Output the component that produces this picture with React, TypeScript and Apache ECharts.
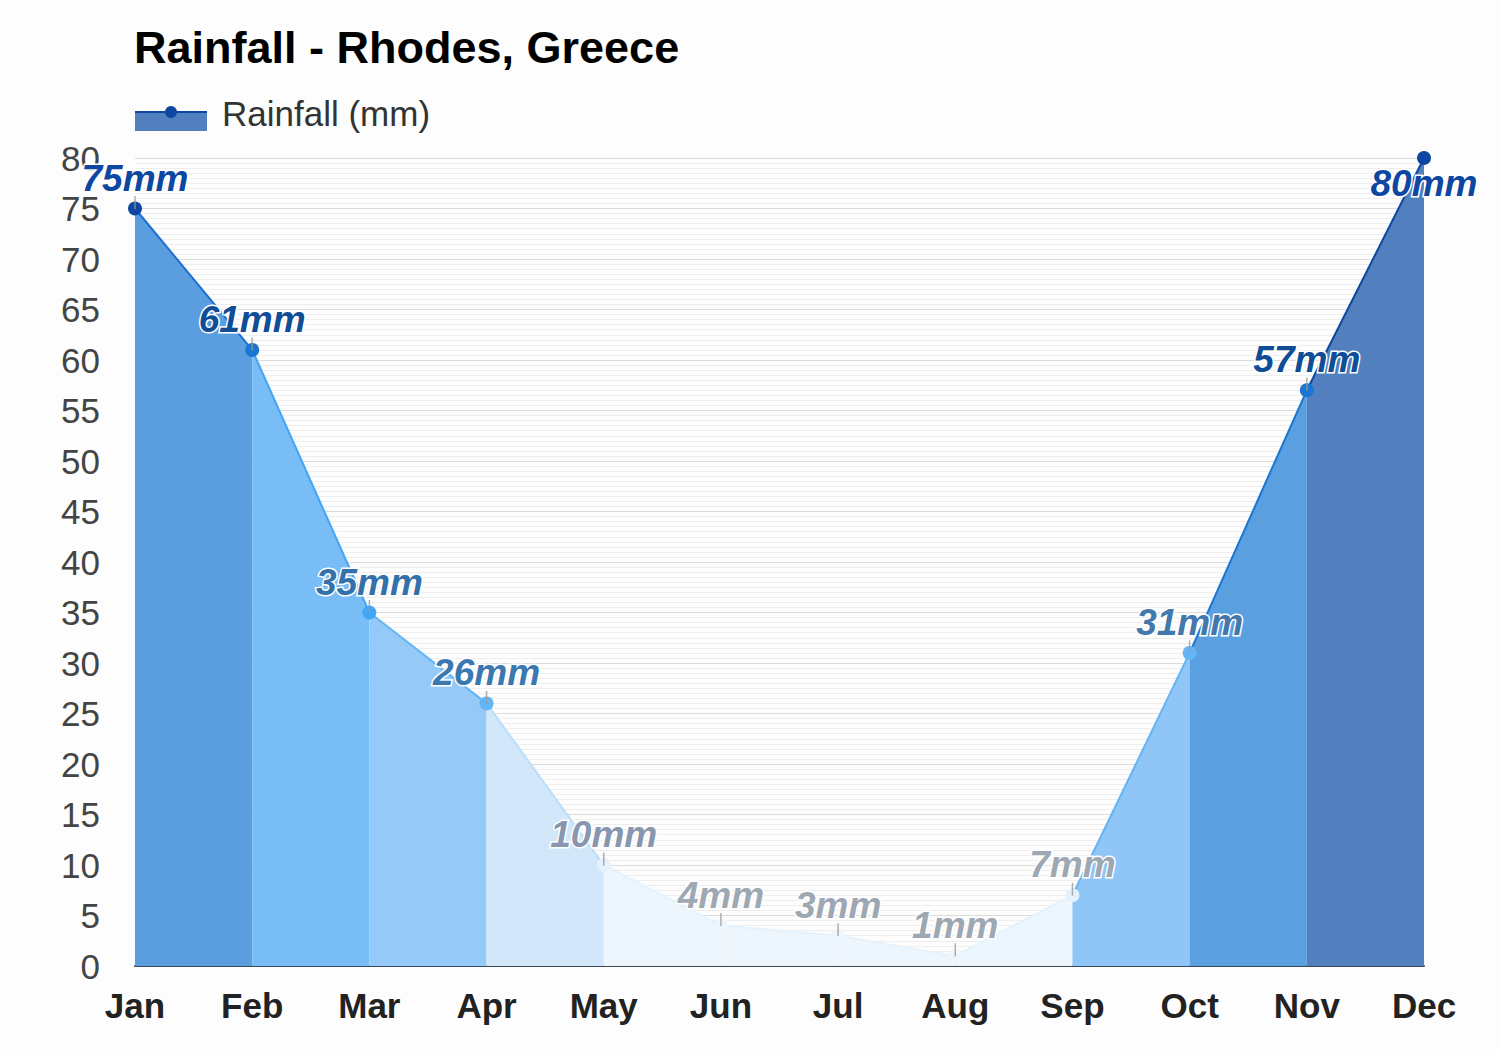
import React, { useEffect, useRef } from "react";
import * as echarts from "echarts";

const months = ["Jan", "Feb", "Mar", "Apr", "May", "Jun", "Jul", "Aug", "Sep", "Oct", "Nov", "Dec"];
const rainfall = [75, 61, 35, 26, 10, 4, 3, 1, 7, 31, 57, 80];
const yTicks = { min: 0, max: 80, interval: 5 };

const pointColors = ["#0d47a1", "#1976d2", "#42a5f5", "#64b5f6", "#e3f2fd", "#eef6fd", "#eef6fd", "#eef6fd", "#e3f2fd", "#64b5f6", "#1976d2", "#0d47a1"];
const labelColors = ["#0d47a1", "#0f4d96", "#3470a9", "#3c78b0", "#8897ae", "#9ea8b3", "#9ea8b3", "#9ea8b3", "#9ea8b3", "#4278ab", "#0f4d96", "#0d47a1"];
const segFill = ["#5a9ee0", "#78bdf6", "#94c9f8", "#d2e7f9", "#eef6fd", "#eef6fd", "#eef6fd", "#eef6fd", "#90c6f7", "#5aa0e0", "#527fbe"];
const segLine = ["#1e6fd0", "#42a5f5", "#64b5f6", "#bbdefb", "#e3f2fd", "#e3f2fd", "#e3f2fd", "#e3f2fd", "#64b5f6", "#1976d2", "#0d47a1"];

const FONT = "'Liberation Sans', Arial, sans-serif";

export default function App() {
  const ref = useRef<HTMLDivElement>(null);
  useEffect(() => {
    if (!ref.current) return;
    const chart = echarts.init(ref.current, null, { renderer: "svg" });

    const segSeries = segFill.map((fill, i) => ({
      type: "line",
      name: "seg" + i,
      data: rainfall.map((v, j) => (j === i || j === i + 1 ? v : null)),
      symbol: "none",
      connectNulls: false,
      silent: true,
      lineStyle: { color: segLine[i], width: 2 },
      areaStyle: { color: fill, opacity: 1 },
      z: 2,
    }));

    const option: any = {
      animation: false,
      backgroundColor: "#fcfdfc",
      textStyle: { fontFamily: FONT },
      title: {
        text: "Rainfall - Rhodes, Greece",
        left: 129,
        top: 20,
        textStyle: { fontFamily: FONT, fontSize: 45, fontWeight: "bold", color: "#000" },
      },
      graphic: [
        { type: "rect", shape: { x: 135, y: 112, width: 72, height: 19 }, style: { fill: "#527fbe" } },
        { type: "line", shape: { x1: 135, y1: 112, x2: 207, y2: 112 }, style: { stroke: "#0d47a1", lineWidth: 2 } },
        { type: "circle", shape: { cx: 171, cy: 112, r: 6 }, style: { fill: "#0d47a1" } },
        {
          type: "text",
          x: 222,
          y: 113,
          style: { text: "Rainfall (mm)", fontFamily: FONT, fontSize: 35, fill: "#333", verticalAlign: "middle" },
        },
      ],
      grid: { left: 135, right: 76, top: 158, bottom: 84, containLabel: false },
      xAxis: {
        type: "category",
        data: months,
        boundaryGap: false,
        axisLine: { show: true, lineStyle: { color: "#3b4856", width: 2 } },
        axisTick: { show: false },
        axisLabel: { fontFamily: FONT, fontSize: 35, fontWeight: "bold", color: "#222", margin: 22 },
        splitLine: { show: false },
      },
      yAxis: {
        type: "value",
        min: yTicks.min,
        max: yTicks.max,
        interval: yTicks.interval,
        axisLine: { show: false },
        axisTick: { show: false },
        axisLabel: { fontFamily: FONT, fontSize: 35, color: "#444", margin: 35 },
        splitLine: { show: true, lineStyle: { color: "#dcdcdc", width: 1 } },
        minorTick: { show: false, splitNumber: 10 },
        minorSplitLine: { show: true, lineStyle: { color: "#eeeeee", width: 1 } },
      },
      series: [
        ...segSeries,
        {
          type: "line",
          name: "Rainfall (mm)",
          data: rainfall.map((v, i) => ({
            value: v,
            itemStyle: { color: pointColors[i] },
            label: {
              color: labelColors[i],
              position: i === rainfall.length - 1 ? "bottom" : "top",
              distance: i === rainfall.length - 1 ? 0 : 5,
            },
          })),
          symbol: "circle",
          symbolSize: 14,
          showSymbol: true,
          lineStyle: { width: 0, opacity: 0 },
          z: 5,
          label: {
            show: true,
            formatter: (p: any) => p.value + "mm",
            fontFamily: FONT,
            fontSize: 37,
            fontWeight: "bold",
            fontStyle: "italic",
            textBorderColor: "#ffffff",
            textBorderWidth: 3,
          },
        },
        {
          type: "scatter",
          name: "ticks",
          silent: true,
          data: rainfall.map((v, i) => (i === rainfall.length - 1 ? null : v)),
          symbol: "rect",
          symbolSize: [1.5, 13],
          symbolOffset: [0, -6],
          itemStyle: { color: "#9a9a9a" },
          z: 6,
        },
      ],
    };
    chart.setOption(option);
    return () => chart.dispose();
  }, []);

  return <div ref={ref} style={{ position: "fixed", left: 0, top: 0, width: 1500, height: 1050 }} />;
}
